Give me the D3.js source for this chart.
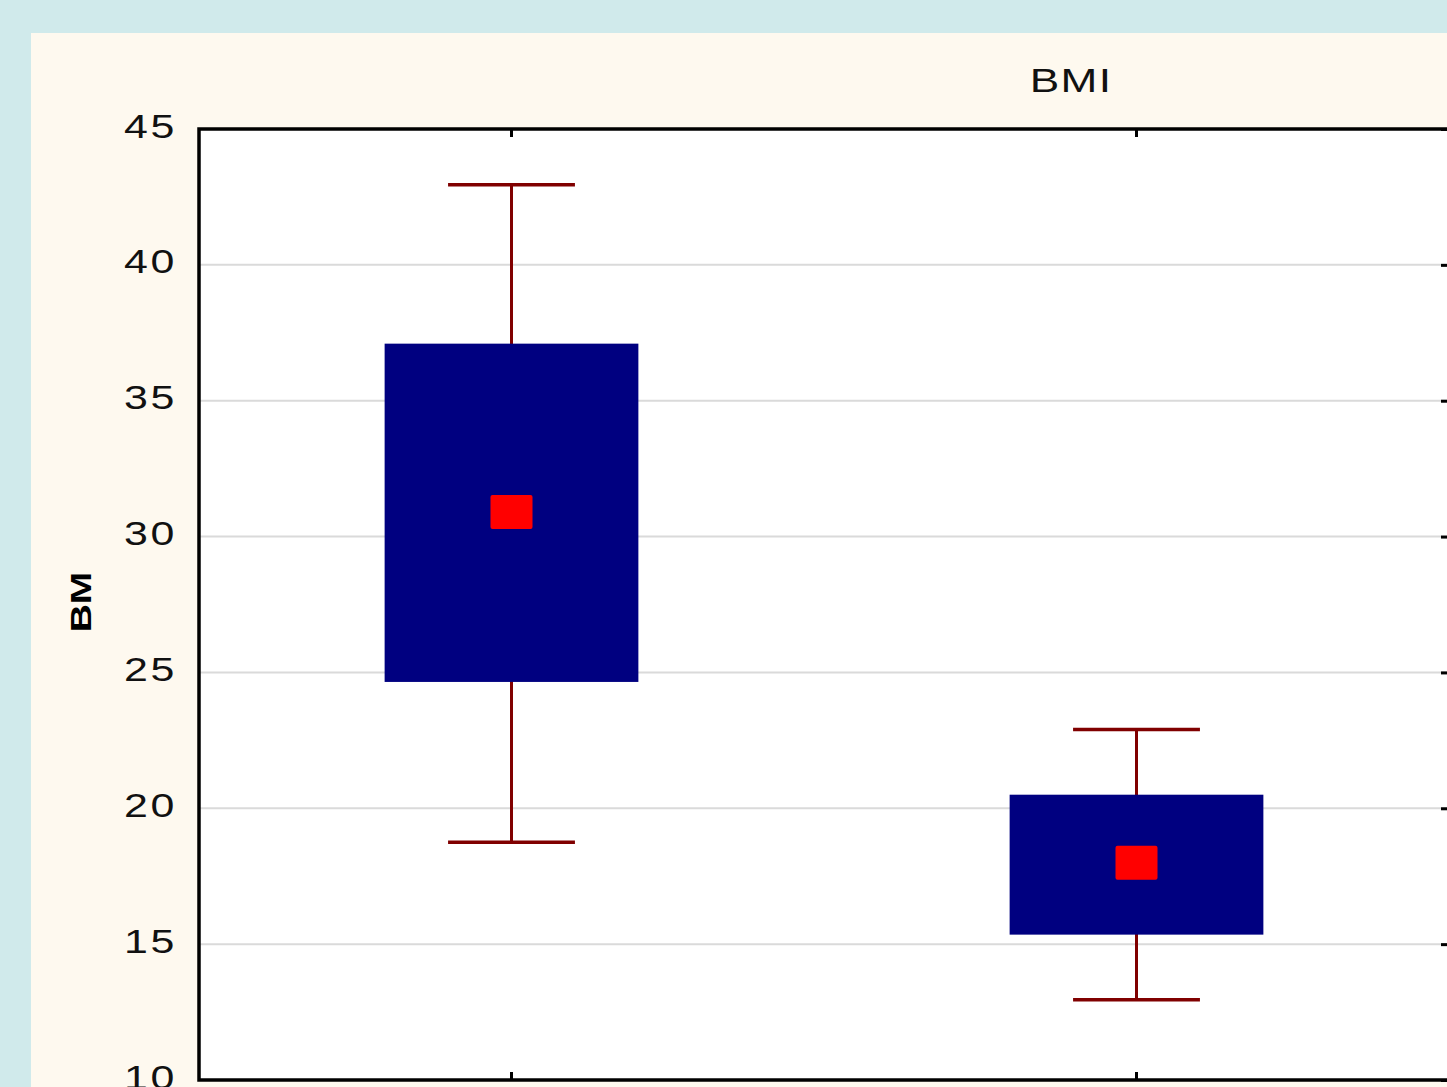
<!DOCTYPE html>
<html>
<head>
    <title>BMI Box Plot</title>
    <script src="https://d3js.org/d3.v7.min.js"></script>
    <style>
        html, body {
            margin: 0;
            padding: 0;
            background: #d0eaeb;
            overflow: hidden;
        }
        .tick-label {
            font-family: "Liberation Sans", Arial, sans-serif;
            font-size: 33px;
            letter-spacing: 2px;
            fill: #111;
        }
        .title {
            font-family: "Liberation Sans", Arial, sans-serif;
            font-size: 34px;
            letter-spacing: 1px;
            fill: #111;
        }
        .y-label {
            font-family: "Liberation Sans", Arial, sans-serif;
            font-size: 30px;
            font-weight: bold;
            fill: #000;
        }
    </style>
</head>
<body>
<div id="chart"></div>
<script>
    // data
    const groups = ['A', 'B'];
    const whiskerLow = [18.75, 12.95];
    const boxLow = [24.65, 15.35];
    const means = [30.9, 18.0];
    const boxHigh = [37.1, 20.5];
    const whiskerHigh = [42.95, 22.9];
    const yTicks = [10, 15, 20, 25, 30, 35, 40, 45];

    const width = 1447;
    const height = 1087;
    const margin = { top: 129, left: 199 };
    const innerWidth = 1250;
    const innerHeight = 951;
    const stretch = 1.3; // text in the picture is drawn wide

    const svg = d3.select('#chart').append('svg')
        .attr('width', width)
        .attr('height', height);

    // cream panel
    svg.append('rect')
        .attr('x', 31).attr('y', 33)
        .attr('width', width).attr('height', height)
        .attr('fill', '#fef9ef');

    svg.append('text')
        .attr('class', 'title')
        .attr('transform', `translate(1071,92) scale(${stretch},1)`)
        .attr('text-anchor', 'middle')
        .text('BMI');

    const g = svg.append('g')
        .attr('transform', `translate(${margin.left},${margin.top})`);

    const x = d3.scaleBand().domain(groups).range([0, innerWidth]);
    const y = d3.scaleLinear().domain([10, 45]).range([innerHeight, 0]);

    g.append('rect')
        .attr('width', innerWidth).attr('height', innerHeight)
        .attr('fill', '#fff');

    // grid
    g.selectAll('.grid').data(yTicks.filter(t => t > 10 && t < 45))
        .enter().append('line')
        .attr('x1', 0).attr('x2', innerWidth)
        .attr('y1', d => y(d)).attr('y2', d => y(d))
        .attr('stroke', '#dadada').attr('stroke-width', 2);

    const boxW = x.bandwidth() * 0.406;
    const capW = boxW / 2;
    const cx = d => x(d) + x.bandwidth() / 2;

    const items = groups.map((k, i) => ({
        k, lo: whiskerLow[i], q1: boxLow[i], m: means[i], q3: boxHigh[i], hi: whiskerHigh[i]
    }));

    const box = g.selectAll('.box').data(items).enter().append('g');

    box.append('line')
        .attr('x1', d => cx(d.k)).attr('x2', d => cx(d.k))
        .attr('y1', d => y(d.hi)).attr('y2', d => y(d.lo))
        .attr('stroke', '#800000').attr('stroke-width', 3);
    box.append('line')
        .attr('x1', d => cx(d.k) - capW / 2).attr('x2', d => cx(d.k) + capW / 2)
        .attr('y1', d => y(d.hi)).attr('y2', d => y(d.hi))
        .attr('stroke', '#800000').attr('stroke-width', 3.5);
    box.append('line')
        .attr('x1', d => cx(d.k) - capW / 2).attr('x2', d => cx(d.k) + capW / 2)
        .attr('y1', d => y(d.lo)).attr('y2', d => y(d.lo))
        .attr('stroke', '#800000').attr('stroke-width', 3.5);

    box.append('rect')
        .attr('x', d => cx(d.k) - boxW / 2)
        .attr('y', d => y(d.q3))
        .attr('width', boxW)
        .attr('height', d => y(d.q1) - y(d.q3))
        .attr('fill', '#000080');

    box.append('rect')
        .attr('x', d => cx(d.k) - 21)
        .attr('y', d => y(d.m) - 17)
        .attr('width', 42).attr('height', 34)
        .attr('rx', 2)
        .attr('fill', '#ff0000');

    // tick labels, stretched like the picture
    const yAxisL = d3.axisLeft(y).tickValues(yTicks).tickSize(0).tickPadding(0)
        .tickFormat(d3.format('d'));
    const yAxisG = g.append('g').call(yAxisL);
    yAxisG.select('.domain').remove();
    yAxisG.selectAll('text')
        .attr('class', 'tick-label')
        .attr('x', null)
        .attr('dy', null)
        .attr('transform', `translate(-22,8) scale(${stretch},1)`);

    const yAxisR = d3.axisLeft(y).tickValues(yTicks).tickSize(8).tickFormat('');
    g.append('g').attr('transform', `translate(${innerWidth},0)`).call(yAxisR)
        .call(a => a.select('.domain').remove())
        .selectAll('line').attr('stroke', '#000').attr('stroke-width', 3);

    const xTop = d3.axisBottom(x).tickSize(8).tickFormat('');
    g.append('g').call(xTop)
        .call(a => a.select('.domain').remove())
        .selectAll('line').attr('stroke', '#000').attr('stroke-width', 3);
    const xBot = d3.axisTop(x).tickSize(8).tickFormat('');
    g.append('g').attr('transform', `translate(0,${innerHeight})`).call(xBot)
        .call(a => a.select('.domain').remove())
        .selectAll('line').attr('stroke', '#000').attr('stroke-width', 3);

    g.append('rect')
        .attr('width', innerWidth).attr('height', innerHeight)
        .attr('fill', 'none')
        .attr('stroke', '#000').attr('stroke-width', 3.5);

    svg.append('text')
        .attr('class', 'y-label')
        .attr('transform', `translate(91,602) rotate(-90) scale(${stretch},1)`)
        .attr('text-anchor', 'middle')
        .text('BM');
</script>
</body>
</html>
